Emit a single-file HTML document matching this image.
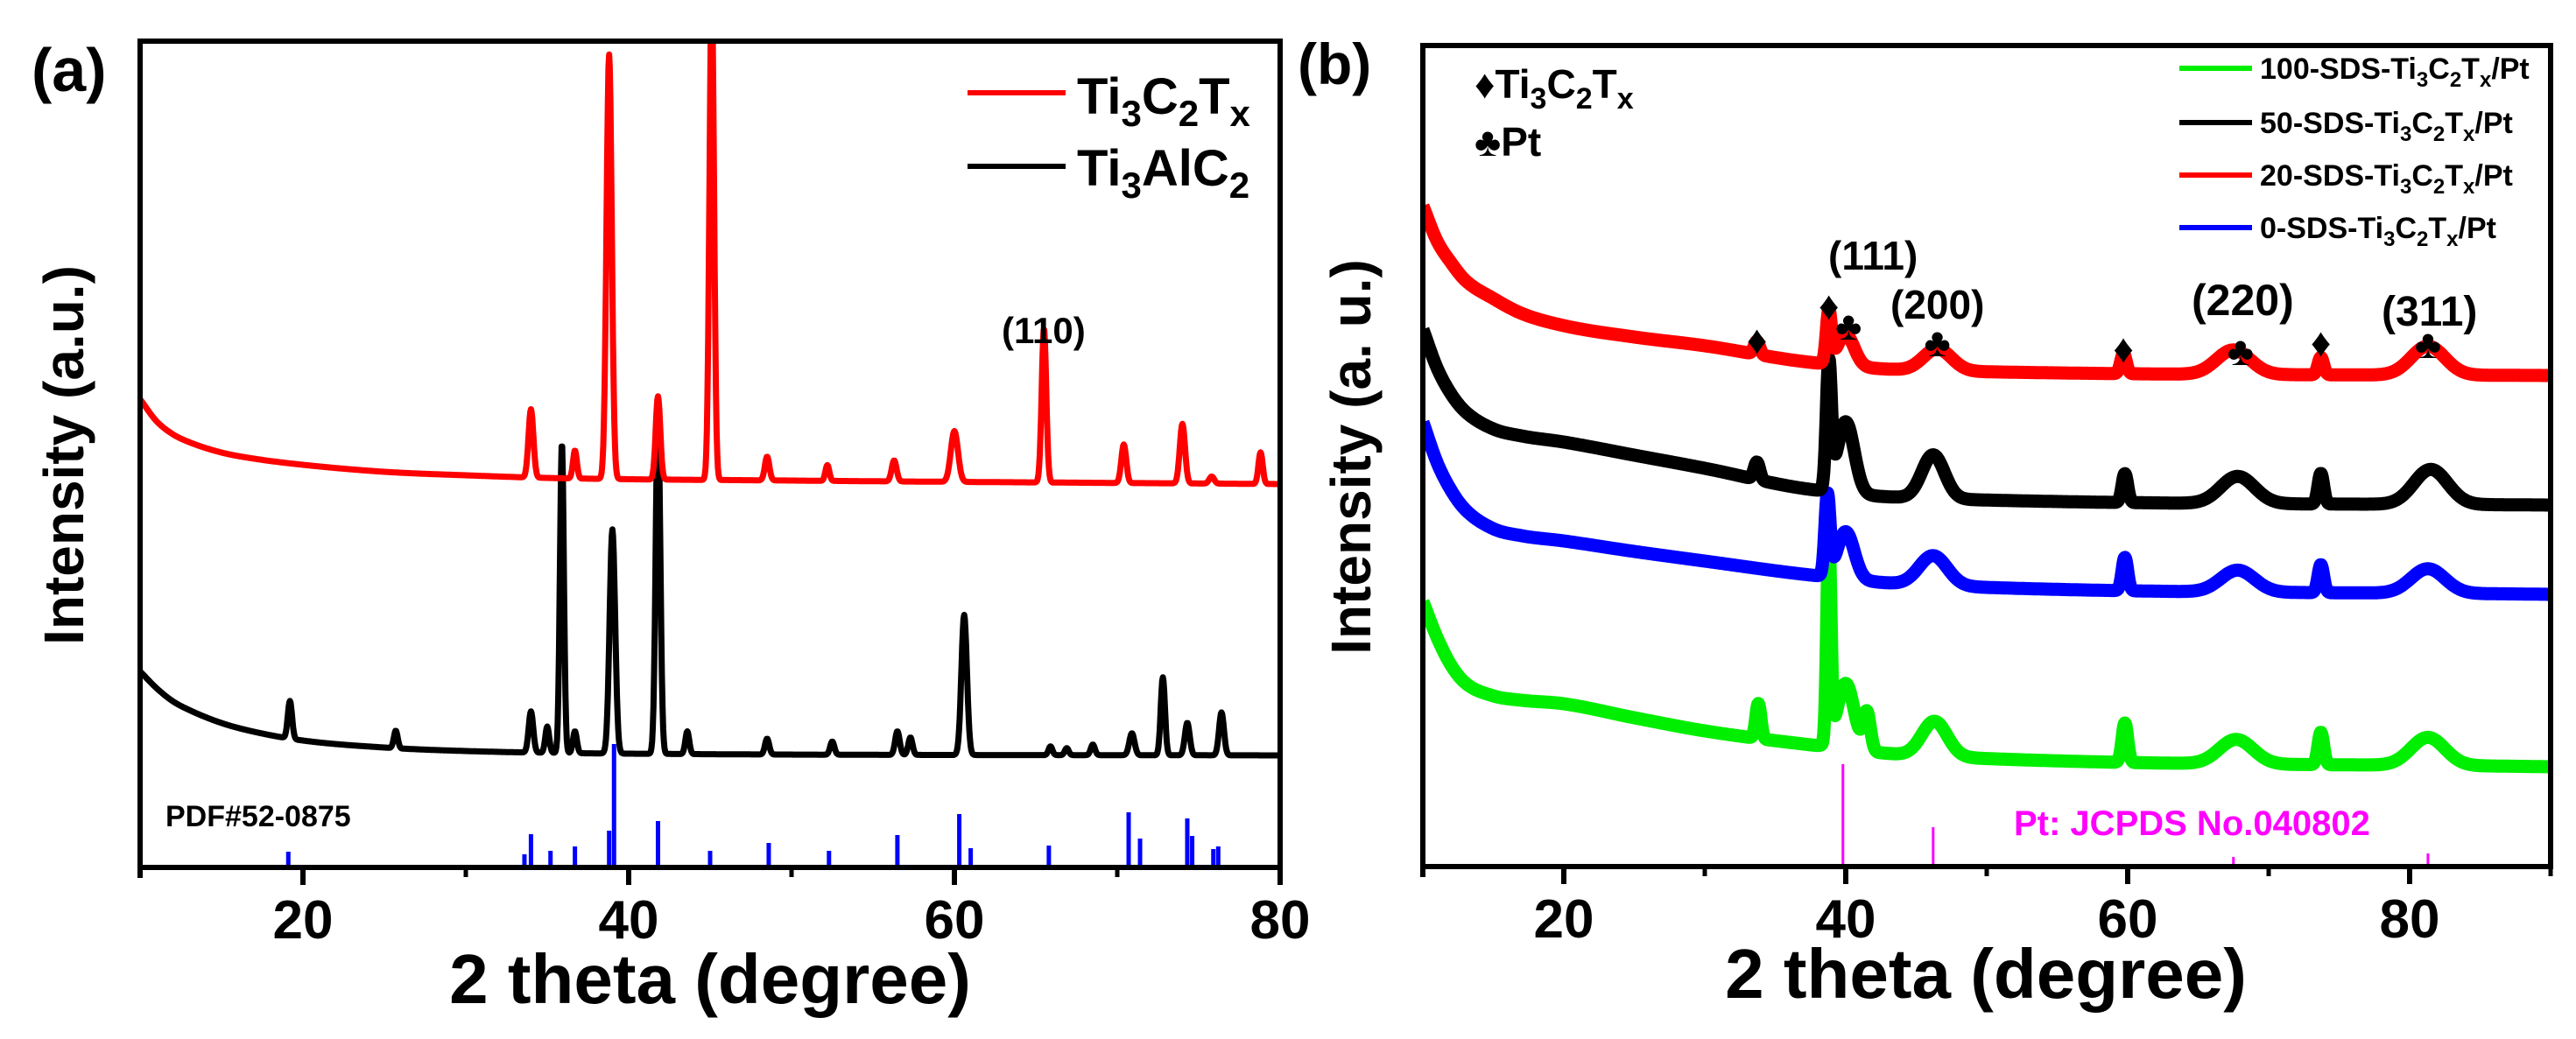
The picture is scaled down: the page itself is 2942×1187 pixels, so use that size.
<!DOCTYPE html>
<html><head><meta charset="utf-8"><style>
html,body{margin:0;padding:0;background:#fff;}
svg{display:block;font-family:"Liberation Sans",Arial,sans-serif;font-weight:bold;}
</style></head><body>
<svg id="fig" width="2942" height="1187" viewBox="0 0 2942 1187" xmlns="http://www.w3.org/2000/svg">
<defs>
<clipPath id="clipA"><rect x="160" y="47" width="1302" height="944"/></clipPath>
<clipPath id="clipB"><rect x="1625" y="52" width="1288" height="938"/></clipPath>
</defs>
<g id="panelA"></g>
<g id="panelB"></g>

<text x="36" y="104" font-size="70">(a)</text>
<text x="1482" y="96" font-size="66">(b)</text>

<text transform="translate(95,520) rotate(-90)" text-anchor="middle" font-size="64">Intensity (a.u.)</text>
<text transform="translate(1565,522) rotate(-90)" text-anchor="middle" font-size="64">Intensity (a. u.)</text>
<text x="811" y="1146" text-anchor="middle" font-size="80">2 theta (degree)</text>
<text x="2268" y="1140" text-anchor="middle" font-size="80">2 theta (degree)</text>

<g>
<line x1="1105" y1="106" x2="1217" y2="106" stroke="#ff0000" stroke-width="6"/>
<text x="1230" y="130" font-size="58">Ti<tspan font-size="42" dy="14">3</tspan><tspan dy="-14">C</tspan><tspan font-size="42" dy="14">2</tspan><tspan dy="-14">T</tspan><tspan font-size="42" dy="14">x</tspan></text>
<line x1="1105" y1="190" x2="1217" y2="190" stroke="#000" stroke-width="6"/>
<text x="1230" y="212" font-size="58">Ti<tspan font-size="42" dy="14">3</tspan><tspan dy="-14">AlC</tspan><tspan font-size="42" dy="14">2</tspan></text>
</g>
<text x="1144" y="392" font-size="42">(110)</text>
<text x="189" y="944" font-size="34">PDF#52-0875</text>

<g>
<line x1="2489" y1="78" x2="2572" y2="78" stroke="#00ee00" stroke-width="6"/>
<text x="2581" y="90" font-size="34">100-SDS-Ti<tspan font-size="24" dy="9">3</tspan><tspan dy="-9">C</tspan><tspan font-size="24" dy="9">2</tspan><tspan dy="-9">T</tspan><tspan font-size="24" dy="9">x</tspan><tspan dy="-9">/Pt</tspan></text>
<line x1="2489" y1="140" x2="2572" y2="140" stroke="#000" stroke-width="6"/>
<text x="2581" y="152" font-size="34">50-SDS-Ti<tspan font-size="24" dy="9">3</tspan><tspan dy="-9">C</tspan><tspan font-size="24" dy="9">2</tspan><tspan dy="-9">T</tspan><tspan font-size="24" dy="9">x</tspan><tspan dy="-9">/Pt</tspan></text>
<line x1="2489" y1="200" x2="2572" y2="200" stroke="#ff0000" stroke-width="6"/>
<text x="2581" y="212" font-size="34">20-SDS-Ti<tspan font-size="24" dy="9">3</tspan><tspan dy="-9">C</tspan><tspan font-size="24" dy="9">2</tspan><tspan dy="-9">T</tspan><tspan font-size="24" dy="9">x</tspan><tspan dy="-9">/Pt</tspan></text>
<line x1="2489" y1="260" x2="2572" y2="260" stroke="#0000ff" stroke-width="6"/>
<text x="2581" y="272" font-size="34">0-SDS-Ti<tspan font-size="24" dy="9">3</tspan><tspan dy="-9">C</tspan><tspan font-size="24" dy="9">2</tspan><tspan dy="-9">T</tspan><tspan font-size="24" dy="9">x</tspan><tspan dy="-9">/Pt</tspan></text>
</g>
<text x="1684" y="112" font-size="46">♦Ti<tspan font-size="34" dy="12">3</tspan><tspan dy="-12">C</tspan><tspan font-size="34" dy="12">2</tspan><tspan dy="-12">T</tspan><tspan font-size="34" dy="12">x</tspan></text>
<text x="1684" y="178" font-size="46">♣Pt</text>
<text x="2088" y="308" font-size="46">(111)</text>
<text x="2159" y="364" font-size="46">(200)</text>
<text x="2503" y="360" font-size="50">(220)</text>
<text x="2720" y="372" font-size="48">(311)</text>
<text x="2300" y="954" font-size="40" fill="#ff00ff">Pt: JCPDS No.040802</text>

<script>
// ---------- Panel A data ----------
const aRedBaseX = [10, 11, 12, 13, 15, 17, 20, 25, 30, 35, 50, 80];
const aRedBaseY = [535, 510, 495, 486, 474, 467, 460, 452, 448, 445, 442, 438];
const aRedPeakPos = [34.0, 36.7, 38.8, 41.8, 45.1, 48.5, 52.2, 56.3, 60.0, 65.5, 70.4, 74.0, 75.8, 78.8];
const aRedPeakH   = [78, 32, 485, 95, 560, 27, 18, 24, 58, 176, 44, 68, 8, 36];
const aRedPeakW   = [0.15, 0.12, 0.16, 0.14, 0.14, 0.14, 0.12, 0.15, 0.22, 0.14, 0.15, 0.16, 0.15, 0.13];

const aBlkBaseX = [10, 11, 12, 13, 15, 17, 20, 25, 30, 40, 80];
const aBlkBaseY = [224, 205, 190, 180, 165, 155, 145, 137, 133, 130, 128];
const aBlkPeakPos = [19.2, 25.7, 34.0, 35.0, 35.9, 36.7, 39.0, 41.8, 43.6, 48.5, 52.5, 56.5, 57.3, 60.6, 65.9, 66.9, 68.5, 70.9, 72.8, 74.3, 76.4];
const aBlkPeakH   = [43, 20, 47, 30, 355, 25, 256, 394, 26, 18, 15, 27, 20, 160, 10, 8, 12, 25, 89, 37, 49];
const aBlkPeakW   = [0.13, 0.12, 0.14, 0.12, 0.12, 0.12, 0.17, 0.14, 0.12, 0.13, 0.13, 0.14, 0.13, 0.17, 0.12, 0.12, 0.13, 0.16, 0.13, 0.15, 0.15];

const aRefPos = [19.1, 33.6, 34.0, 35.2, 36.7, 38.8, 39.1, 41.8, 45.0, 48.6, 52.3, 56.5, 60.3, 61.0, 65.8, 70.7, 71.4, 74.3, 74.6, 75.9, 76.2];
const aRefH   = [18, 15, 38, 19, 24, 42, 141, 53, 19, 28, 19, 37, 61, 22, 25, 63, 33, 56, 36, 21, 24];

const aTicks = [20, 40, 60, 80];
const aMinor = [30, 50, 70];

// ---------- Panel B data ----------
const bRedBaseX = [10, 11, 12, 13, 15, 17, 20, 25, 30, 37, 45, 90];
const bRedBaseY = [755, 715, 690, 670, 649, 632, 618, 605, 595, 577, 567, 561];
const bRedPeakPos = [33.7, 38.8, 40.0, 46.5, 59.7, 67.5, 73.7, 81.3];
const bRedPeakH   = [15, 58, 36, 25, 23, 28, 20, 33];
const bRedPeakW   = [0.2, 0.18, 0.6, 1.0, 0.2, 1.2, 0.2, 1.2];

const bBlkBaseX = [10, 11, 12, 13, 15, 17, 20, 25, 30, 37, 45, 90];
const bBlkBaseY = [614, 570, 540, 520, 500, 492, 485, 470, 455, 432, 421, 413];
const bBlkPeakPos = [33.7, 38.8, 40.0, 46.2, 59.8, 67.8, 73.7, 81.5];
const bBlkPeakH   = [20, 141, 82, 50, 33, 31, 35, 40];
const bBlkPeakW   = [0.2, 0.18, 0.6, 0.8, 0.2, 1.2, 0.2, 1.2];

const bBluBaseX = [10, 11, 12, 13, 15, 17, 20, 25, 30, 37, 45, 90];
const bBluBaseY = [508, 462, 430, 408, 386, 378, 372, 360, 349, 334, 322, 311];
const bBluPeakPos = [38.7, 40.0, 46.2, 59.8, 67.8, 73.7, 81.3];
const bBluPeakH   = [91, 54, 34, 38, 25, 32, 28];
const bBluPeakW   = [0.18, 0.6, 1.0, 0.2, 1.2, 0.2, 1.2];

const bGrnBaseX = [10, 11, 12, 13, 15, 17, 20, 25, 30, 37, 45, 90];
const bGrnBaseY = [303, 262, 230, 210, 195, 190, 186, 170, 155, 140, 127, 114];
const bGrnPeakPos = [33.8, 38.8, 40.0, 41.5, 46.3, 59.8, 67.7, 73.7, 81.3];
const bGrnPeakH   = [40, 230, 75, 43, 40, 45, 28, 37, 32];
const bGrnPeakW   = [0.18, 0.15, 0.6, 0.25, 0.9, 0.2, 1.2, 0.2, 1.2];

const bRefPos = [39.8, 46.2, 67.5, 81.3];
const bRefH   = [117, 45, 11, 15];

const bDiamondPos = [33.7, 38.8, 59.7, 73.7];
const bDiamondY   = [602, 641, 592, 599];
const bClubPos = [40.2, 46.5, 68.0, 81.3];
const bClubY   = [618, 599, 589, 597];

const bTicks = [20, 40, 60, 80];
const bMinor = [30, 50, 70, 90];

// ---------- helpers ----------
const NS = 'http://www.w3.org/2000/svg';
function mk(tag, parent, attrs) {
  const e = document.createElementNS(NS, tag);
  for (const k in attrs) e.setAttribute(k, attrs[k]);
  parent.appendChild(e);
  return e;
}
// monotone cubic interpolation (Fritsch-Carlson)
function interp(xs, ys, x) {
  const n = xs.length;
  if (x <= xs[0]) return ys[0];
  if (x >= xs[n-1]) return ys[n-1];
  const d = [], m = [];
  for (let i = 0; i < n - 1; i++) d.push((ys[i+1] - ys[i]) / (xs[i+1] - xs[i]));
  m.push(d[0]);
  for (let i = 1; i < n - 1; i++) m.push(d[i-1] * d[i] <= 0 ? 0 : (d[i-1] + d[i]) / 2);
  m.push(d[n-2]);
  for (let i = 0; i < n - 1; i++) {
    if (d[i] === 0) { m[i] = 0; m[i+1] = 0; continue; }
    const a = m[i] / d[i], b = m[i+1] / d[i], s = a*a + b*b;
    if (s > 9) { const t = 3 / Math.sqrt(s); m[i] = t*a*d[i]; m[i+1] = t*b*d[i]; }
  }
  let i = 0;
  while (x > xs[i+1]) i++;
  const h = xs[i+1] - xs[i], t = (x - xs[i]) / h;
  const h00 = 2*t*t*t - 3*t*t + 1, h10 = t*t*t - 2*t*t + t, h01 = -2*t*t*t + 3*t*t, h11 = t*t*t - t*t;
  return h00*ys[i] + h10*h*m[i] + h01*ys[i+1] + h11*h*m[i+1];
}
function curveVal(x, bx, by, pp, ph, pw) {
  let v = interp(bx, by, x);
  for (let i = 0; i < pp.length; i++) { const d = (x - pp[i]) / pw[i]; v += ph[i] * Math.exp(-0.5 * d * d); }
  return v;
}
function makeAxes(cfg) {
  const xs = v => cfg.x0 + (v - cfg.xmin) / (cfg.xmax - cfg.xmin) * (cfg.x1 - cfg.x0);
  const ys = v => cfg.yBase - v;
  return {xs, ys};
}
function drawPanel(g, cfg, series, refs, refColor, ticks, minor) {
  const {xs, ys} = makeAxes(cfg);
  const cg = mk('g', g, {'clip-path': 'url(#' + cfg.clip + ')'});
  for (let i = 0; i < refs.pos.length; i++) {
    const l = mk('line', cg, {x1: xs(refs.pos[i]), x2: xs(refs.pos[i]), y1: ys(0), y2: ys(refs.h[i]), stroke: refColor, 'stroke-width': refs.w});
    
    
  }
  series.forEach(s => {
    let d = '';
    for (let x = cfg.xmin; x <= cfg.xmax + 1e-9; x += 0.04) {
      const v = curveVal(x, s.bx, s.by, s.pp, s.ph, s.pw);
      d += (d ? 'L' : 'M') + xs(x).toFixed(1) + ',' + ys(v).toFixed(1);
    }
    const p = mk('path', cg, {d: d, fill: 'none', stroke: s.color, 'stroke-width': s.sw, 'stroke-linejoin': 'round'});
    
    
  });
  const fr = mk('rect', g, {x: cfg.x0, y: cfg.yTop, width: cfg.x1 - cfg.x0, height: cfg.yBase - cfg.yTop, fill: 'none', stroke: '#000', 'stroke-width': 6});
  
  
  mk('line', g, {x1: cfg.x0, x2: cfg.x0, y1: cfg.yBase, y2: cfg.yBase + 12, stroke: '#000', 'stroke-width': 6});
  ticks.forEach(t => {
    const tl = mk('line', g, {x1: xs(t), x2: xs(t), y1: cfg.yBase, y2: cfg.yBase + 20, stroke: '#000', 'stroke-width': 6});
    
    
    const tx = mk('text', g, {x: xs(t), y: cfg.yBase + 81, 'text-anchor': 'middle', 'font-size': 62});
    tx.textContent = t;
    
    
  });
  minor.forEach(t => {
    const ml = mk('line', g, {x1: xs(t), x2: xs(t), y1: cfg.yBase, y2: cfg.yBase + 11, stroke: '#000', 'stroke-width': 5});
    
    
  });
  return {xs, ys};
}

const cfgA = {x0: 160, x1: 1462, xmin: 10, xmax: 80, yBase: 991, yTop: 47, clip: 'clipA'};
const cfgB = {x0: 1625, x1: 2913, xmin: 10, xmax: 90, yBase: 990, yTop: 52, clip: 'clipB'};

drawPanel(document.getElementById('panelA'), cfgA, [
  {name: 'series-ti3alc2', color: '#000', sw: 7, bx: aBlkBaseX, by: aBlkBaseY, pp: aBlkPeakPos, ph: aBlkPeakH, pw: aBlkPeakW},
  {name: 'series-ti3c2tx', color: '#ff0000', sw: 7, bx: aRedBaseX, by: aRedBaseY, pp: aRedPeakPos, ph: aRedPeakH, pw: aRedPeakW}
], {pos: aRefPos, h: aRefH, w: 5}, '#0000ff', aTicks, aMinor);

const axB = drawPanel(document.getElementById('panelB'), cfgB, [
  {name: 'series-100-sds', color: '#00ee00', sw: 15, bx: bGrnBaseX, by: bGrnBaseY, pp: bGrnPeakPos, ph: bGrnPeakH, pw: bGrnPeakW},
  {name: 'series-0-sds', color: '#0000ff', sw: 15, bx: bBluBaseX, by: bBluBaseY, pp: bBluPeakPos, ph: bBluPeakH, pw: bBluPeakW},
  {name: 'series-50-sds', color: '#000', sw: 15, bx: bBlkBaseX, by: bBlkBaseY, pp: bBlkPeakPos, ph: bBlkPeakH, pw: bBlkPeakW},
  {name: 'series-20-sds', color: '#ff0000', sw: 15, bx: bRedBaseX, by: bRedBaseY, pp: bRedPeakPos, ph: bRedPeakH, pw: bRedPeakW}
], {pos: bRefPos, h: bRefH, w: 3}, '#ff00ff', bTicks, bMinor);

const gB = document.getElementById('panelB');
bDiamondPos.forEach((p, i) => {
  const t = mk('text', gB, {x: axB.xs(p), y: axB.ys(bDiamondY[i]) + 16, 'text-anchor': 'middle', 'font-size': 46});
  t.textContent = '♦';
  
  
});
bClubPos.forEach((p, i) => {
  const t = mk('text', gB, {x: axB.xs(p), y: axB.ys(bClubY[i]) + 16, 'text-anchor': 'middle', 'font-size': 46});
  t.textContent = '♣';
  
  
});
</script>
</svg>
</body></html>
